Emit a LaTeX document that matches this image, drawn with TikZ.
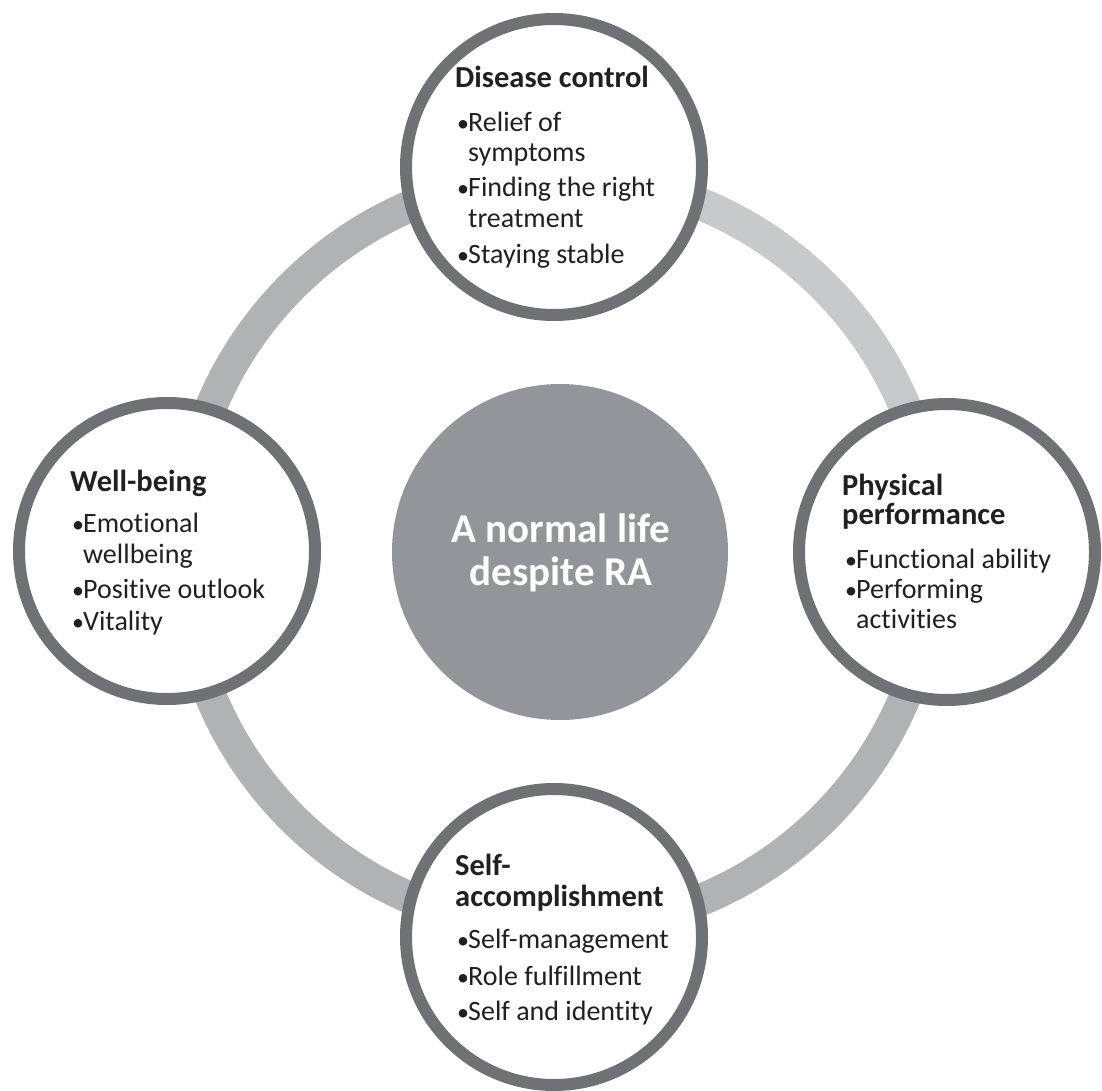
\documentclass[tikz,border=0pt]{standalone}
\usepackage{fontspec}
\setmainfont{Carlito}[RawFeature=-liga]
\definecolor{ringA}{RGB}{177,178,180}
\definecolor{ringB}{RGB}{200,201,203}
\definecolor{bord}{RGB}{112,113,117}
\definecolor{hub}{RGB}{147,149,152}
\definecolor{ink}{RGB}{35,31,32}
\newcommand{\bulx}{\makebox[11pt][l]{\fontsize{24}{24}\selectfont•}}
\begin{document}
\begin{tikzpicture}[x=1pt,y=-1pt,
  ring/.style={line width=32pt},
  sat/.style={draw=bord,fill=white,line width=12pt},
  ttl/.style={anchor=base west,inner sep=0pt,text=ink,font=\fontsize{30.5}{34}\selectfont\bfseries},
  txt/.style={anchor=base west,inner sep=0pt,text=ink,font=\fontsize{28}{32}\selectfont},
  hubtxt/.style={anchor=base,inner sep=0pt,text=white,font=\fontsize{41}{45}\selectfont\bfseries}]
\useasboundingbox (0,0) rectangle (1102,1091);
% ring
\coordinate (o) at (558,552);
\draw[ring,draw=ringA] (o) circle[radius=376pt];
\draw[ring,draw=ringB] ([shift={(0:376pt)}]o) arc[start angle=0,end angle=90,radius=376pt];
% hub
\node[circle,fill=hub,minimum size=336pt,inner sep=0pt] (hub) at (560,552) {};
\node[hubtxt] (h1) at (561,542) {A normal life};
\node[hubtxt] (h2) at (561,585) {despite RA};
% satellites
\node[circle,sat,minimum size=296pt,inner sep=0pt] (top) at (554,167) {};
\node[circle,sat,minimum size=296pt,inner sep=0pt] (left) at (167,551) {};
\node[circle,sat,minimum size=296pt,inner sep=0pt] (right) at (947,552) {};
\node[circle,sat,minimum size=296pt,inner sep=0pt] (bottom) at (554,937) {};
% top text
\node[ttl] (t0) at (455,88) {Disease control};
\node[txt] (t1) at (457,132) {\bulx Relief of};
\node[txt] (t2) at (468,162) {symptoms};
\node[txt] (t3) at (457,197) {\bulx Finding the right};
\node[txt] (t4) at (468,228) {treatment};
\node[txt] (t5) at (457,263) {\bulx Staying stable};
% left text
\node[ttl] (l0) at (70,491) {Well-being};
\node[txt] (l1) at (72,532) {\bulx Emotional};
\node[txt] (l2) at (83,563) {wellbeing};
\node[txt] (l3) at (72,598) {\bulx Positive outlook};
\node[txt] (l4) at (72,630) {\bulx Vitality};
% right text
\node[ttl] (r0) at (842,495) {Physical};
\node[ttl] (r1) at (842,524) {performance};
\node[txt] (r2) at (845,568) {\bulx Functional ability};
\node[txt] (r3) at (845,598) {\bulx Performing};
\node[txt] (r4) at (856,628) {activities};
% bottom text
\node[ttl] (b0) at (455,875) {Self-};
\node[ttl] (b1) at (455,906) {accomplishment};
\node[txt] (b2) at (457,948) {\bulx Self-management};
\node[txt] (b3) at (457,985) {\bulx Role fulfillment};
\node[txt] (b4) at (457,1020) {\bulx Self and identity};
\end{tikzpicture}
\end{document}
